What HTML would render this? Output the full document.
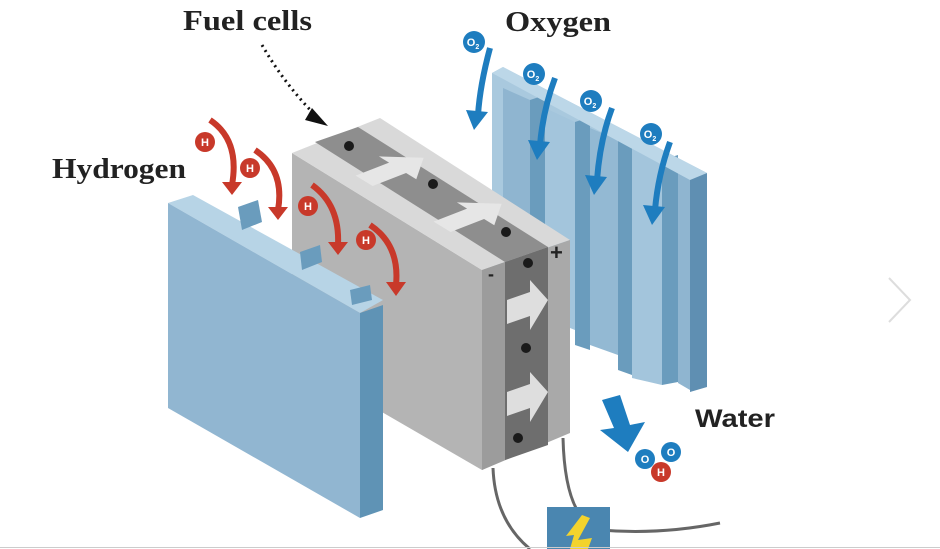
<!DOCTYPE html>
<html><head><meta charset="utf-8"><style>
html,body{margin:0;padding:0;background:#fff;}
svg{display:block;}
</style></head><body>
<svg width="940" height="549" viewBox="0 0 940 549" xmlns="http://www.w3.org/2000/svg">
<rect width="940" height="549" fill="#fff"/>
<text x="183" y="30" textLength="129" lengthAdjust="spacingAndGlyphs" font-family="Liberation Serif, serif" font-weight="bold" font-size="28" fill="#222">Fuel cells</text>
<text x="505" y="31" textLength="106" lengthAdjust="spacingAndGlyphs" font-family="Liberation Serif, serif" font-weight="bold" font-size="28" fill="#222">Oxygen</text>
<text x="52" y="178" textLength="134" lengthAdjust="spacingAndGlyphs" font-family="Liberation Serif, serif" font-weight="bold" font-size="28" fill="#222">Hydrogen</text>
<text x="695" y="427" textLength="80" lengthAdjust="spacingAndGlyphs" font-family="Liberation Sans, sans-serif" font-weight="bold" font-size="25" fill="#222">Water</text>
<path d="M262,45 Q285,85 318,118" fill="none" stroke="#111" stroke-width="3" stroke-dasharray="2,4"/>
<path d="M312,108 L328,126 L305,120 z" fill="#111"/>

<polygon points="492,73 503,67 707,173 707,387 492,290" fill="#a9c9de"/>
<polygon points="503,88 530,100 530,310 503,298" fill="#8fb5d0"/>
<polygon points="530,100 545,95 545,320 530,310" fill="#6a9cbd"/>
<polygon points="545,108 575,122 575,330 545,318" fill="#a3c5dc"/>
<polygon points="575,122 590,117 590,350 575,345" fill="#6a9cbd"/>
<polygon points="590,128 618,140 618,355 590,345" fill="#93b9d3"/>
<polygon points="618,140 632,136 632,375 618,370" fill="#6a9cbd"/>
<polygon points="632,148 662,160 662,385 632,378" fill="#a3c5dc"/>
<polygon points="662,160 678,155 678,382 662,385" fill="#6a9cbd"/>
<polygon points="678,165 690,170 690,390 678,383" fill="#8fb5d0"/>
<polygon points="690,178 707,173 707,387 690,392" fill="#5f8fb2"/>
<polygon points="492,73 503,67 707,173 690,180" fill="#bcd7e8"/>

<polygon points="292,153 482,270 482,470 292,360" fill="#b4b4b4"/>
<polygon points="292,153 380,118 570,240 482,270" fill="#d9d9d9"/>
<polygon points="315,142 358,127 548,247 505,262" fill="#8e8e8e"/>
<polygon points="482,270 570,240 570,433 482,470" fill="#a9a9a9"/>
<polygon points="505,262 548,247 548,445 505,460" fill="#6e6e6e"/>
<polygon points="482,270 505,262 505,460 482,470" fill="#9c9c9c"/>
<g fill="#e6e6e6">
<polygon transform="matrix(0.93,-0.36,0.85,0.52,392,170)" points="-30,-10 6,-10 6,-22 34,0 6,22 6,10 -30,10"/>
<polygon transform="matrix(0.93,-0.36,0.85,0.52,470,216)" points="-30,-10 6,-10 6,-22 34,0 6,22 6,10 -30,10"/>
</g>
<polygon points="507,300 530,292 530,280 548,300 530,330 530,316 507,324" fill="#dedede"/>
<polygon points="507,392 530,384 530,372 548,392 530,422 530,408 507,416" fill="#dedede"/>
<circle cx="349" cy="146" r="5" fill="#1a1a1a"/>
<circle cx="433" cy="184" r="5" fill="#1a1a1a"/>
<circle cx="506" cy="232" r="5" fill="#1a1a1a"/>
<circle cx="528" cy="263" r="5" fill="#1a1a1a"/>
<circle cx="526" cy="348" r="5" fill="#1a1a1a"/>
<circle cx="518" cy="438" r="5" fill="#1a1a1a"/>
<text x="488" y="280" font-family="Liberation Sans, sans-serif" font-weight="bold" font-size="18" fill="#222">-</text>
<text x="550" y="260" font-family="Liberation Sans, sans-serif" font-weight="bold" font-size="22" fill="#222">+</text>

<path d="M493,468 Q495,520 530,549" fill="none" stroke="#666" stroke-width="3"/>
<path d="M563,438 Q565,520 600,530 Q660,535 720,523" fill="none" stroke="#666" stroke-width="3"/>
<rect x="547" y="507" width="63" height="42" fill="#4a86b0"/>
<polygon points="582,515 590,518 578,540 592,538 588,549 570,549 574,535 566,536" fill="#f3d32d"/>

<polygon points="168,203 193,195 383,300 360,313" fill="#b7d4e6"/>
<polygon points="238,207 258,200 262,222 242,230" fill="#6a9cbd"/>
<polygon points="300,252 320,245 322,262 302,270" fill="#6a9cbd"/>
<polygon points="350,290 370,285 372,300 352,305" fill="#6a9cbd"/>
<polygon points="168,203 360,313 360,518 168,408" fill="#91b6d1"/>
<polygon points="360,313 383,305 383,510 360,518" fill="#5f93b5"/>

<g fill="none" stroke="#c8392a" stroke-width="6">
<path d="M210,120 Q240,140 232,185"/>
<path d="M255,150 Q285,170 278,210"/>
<path d="M312,185 Q340,205 338,245"/>
<path d="M370,225 Q400,245 396,285"/>
</g>
<g fill="#c8392a">
<polygon points="222,182 242,182 232,195"/>
<polygon points="268,207 288,207 278,220"/>
<polygon points="328,242 348,242 338,255"/>
<polygon points="386,282 406,282 396,296"/>
<circle cx="205" cy="142" r="10"/><circle cx="250" cy="168" r="10"/><circle cx="308" cy="206" r="10"/><circle cx="366" cy="240" r="10"/>
</g>
<g font-family="Liberation Sans, sans-serif" font-weight="bold" font-size="11" fill="#fff" text-anchor="middle">
<text x="205" y="146">H</text><text x="250" y="172">H</text><text x="308" y="210">H</text><text x="366" y="244">H</text>
</g>

<g fill="none" stroke="#1e7dbf" stroke-width="6">
<path d="M490,48 Q480,85 478,115"/>
<path d="M555,78 Q543,110 540,145"/>
<path d="M612,108 Q600,140 597,180"/>
<path d="M670,142 Q658,175 655,210"/>
</g>
<g fill="#1e7dbf">
<polygon points="466,110 488,112 474,130"/>
<polygon points="528,140 550,142 537,160"/>
<polygon points="585,175 607,177 594,195"/>
<polygon points="643,205 665,207 652,225"/>
<circle cx="474" cy="42" r="11"/><circle cx="534" cy="74" r="11"/><circle cx="591" cy="101" r="11"/><circle cx="651" cy="134" r="11"/>
<polygon points="602,400 620,395 630,425 645,422 628,452 600,430 614,428"/>
<circle cx="645" cy="459" r="10"/><circle cx="671" cy="452" r="10"/>
</g>
<circle cx="661" cy="472" r="10" fill="#c8392a"/>
<g font-family="Liberation Sans, sans-serif" font-weight="bold" font-size="11" fill="#fff" text-anchor="middle">
<text x="661" y="476">H</text>
<text x="473" y="46">O<tspan font-size="7" dy="3">2</tspan></text>
<text x="533" y="78">O<tspan font-size="7" dy="3">2</tspan></text>
<text x="590" y="105">O<tspan font-size="7" dy="3">2</tspan></text>
<text x="650" y="138">O<tspan font-size="7" dy="3">2</tspan></text>
<text x="645" y="463">O</text><text x="671" y="456">O</text>
</g>

<path d="M889,278 L910,300 L889,322" fill="none" stroke="#ddd" stroke-width="2"/>
<line x1="0" y1="547.5" x2="940" y2="547.5" stroke="#ccc" stroke-width="1"/>
</svg>
</body></html>
